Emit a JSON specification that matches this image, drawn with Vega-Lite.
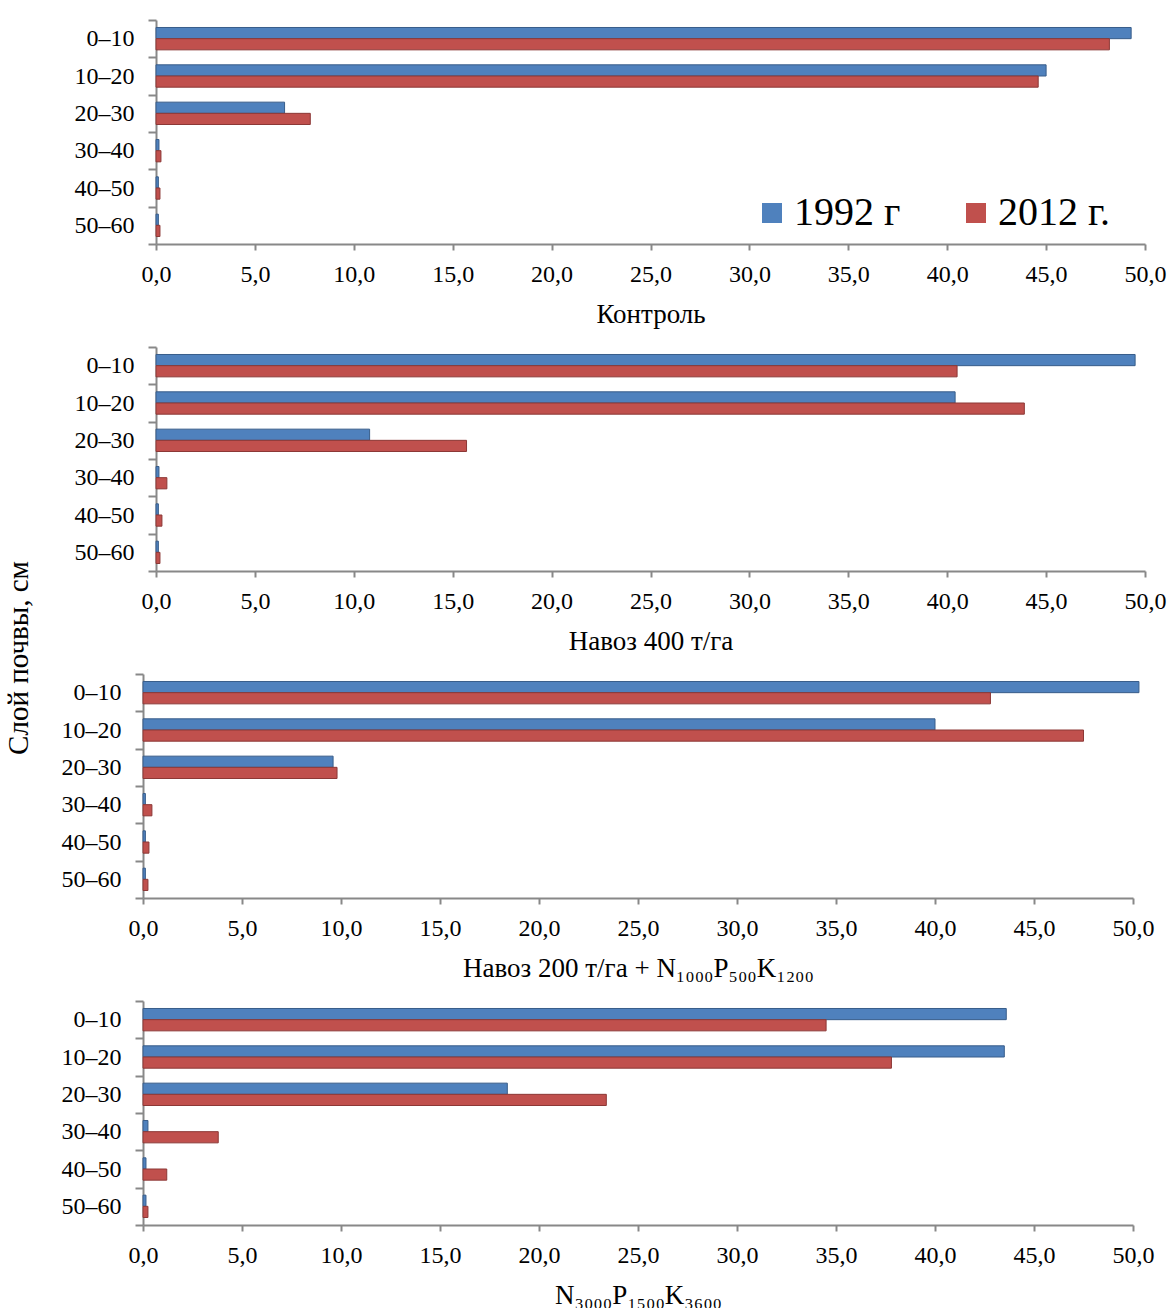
{
  "$schema": "https://vega.github.io/schema/vega-lite/v6.json",
  "background": "white",
  "padding": {"top": 8, "left": 5, "right": 5, "bottom": 0},
  "title": {"text": "Слой почвы, см", "orient": "left", "anchor": "middle", "font": "Liberation Serif", "fontSize": 29, "fontWeight": "normal", "color": "black", "offset": 27},
  "config": {
    "view": {"stroke": null},
    "axis": {"labelFont": "Liberation Serif", "labelColor": "black", "titleFont": "Liberation Serif", "titleColor": "black", "titleFontWeight": "normal", "domainColor": "#888888", "domainWidth": 2, "tickColor": "#888888", "tickWidth": 2, "grid": false},
    "axisX": {"labelFlush": false},
    "legend": {"labelFont": "Liberation Serif", "labelColor": "black"}
  },
  "data": {"values": [
    {"panel": "p1", "layer": "0–10", "year": "1992 г", "value": 49.3},
    {"panel": "p1", "layer": "0–10", "year": "2012 г.", "value": 48.2},
    {"panel": "p1", "layer": "10–20", "year": "1992 г", "value": 45.0},
    {"panel": "p1", "layer": "10–20", "year": "2012 г.", "value": 44.6},
    {"panel": "p1", "layer": "20–30", "year": "1992 г", "value": 6.5},
    {"panel": "p1", "layer": "20–30", "year": "2012 г.", "value": 7.8},
    {"panel": "p1", "layer": "30–40", "year": "1992 г", "value": 0.15},
    {"panel": "p1", "layer": "30–40", "year": "2012 г.", "value": 0.25},
    {"panel": "p1", "layer": "40–50", "year": "1992 г", "value": 0.12},
    {"panel": "p1", "layer": "40–50", "year": "2012 г.", "value": 0.2},
    {"panel": "p1", "layer": "50–60", "year": "1992 г", "value": 0.12},
    {"panel": "p1", "layer": "50–60", "year": "2012 г.", "value": 0.2},
    {"panel": "p2", "layer": "0–10", "year": "1992 г", "value": 49.5},
    {"panel": "p2", "layer": "0–10", "year": "2012 г.", "value": 40.5},
    {"panel": "p2", "layer": "10–20", "year": "1992 г", "value": 40.4},
    {"panel": "p2", "layer": "10–20", "year": "2012 г.", "value": 43.9},
    {"panel": "p2", "layer": "20–30", "year": "1992 г", "value": 10.8},
    {"panel": "p2", "layer": "20–30", "year": "2012 г.", "value": 15.7},
    {"panel": "p2", "layer": "30–40", "year": "1992 г", "value": 0.15},
    {"panel": "p2", "layer": "30–40", "year": "2012 г.", "value": 0.55},
    {"panel": "p2", "layer": "40–50", "year": "1992 г", "value": 0.12},
    {"panel": "p2", "layer": "40–50", "year": "2012 г.", "value": 0.3},
    {"panel": "p2", "layer": "50–60", "year": "1992 г", "value": 0.12},
    {"panel": "p2", "layer": "50–60", "year": "2012 г.", "value": 0.2},
    {"panel": "p3", "layer": "0–10", "year": "1992 г", "value": 50.3},
    {"panel": "p3", "layer": "0–10", "year": "2012 г.", "value": 42.8},
    {"panel": "p3", "layer": "10–20", "year": "1992 г", "value": 40.0},
    {"panel": "p3", "layer": "10–20", "year": "2012 г.", "value": 47.5},
    {"panel": "p3", "layer": "20–30", "year": "1992 г", "value": 9.6},
    {"panel": "p3", "layer": "20–30", "year": "2012 г.", "value": 9.8},
    {"panel": "p3", "layer": "30–40", "year": "1992 г", "value": 0.12},
    {"panel": "p3", "layer": "30–40", "year": "2012 г.", "value": 0.45},
    {"panel": "p3", "layer": "40–50", "year": "1992 г", "value": 0.12},
    {"panel": "p3", "layer": "40–50", "year": "2012 г.", "value": 0.3},
    {"panel": "p3", "layer": "50–60", "year": "1992 г", "value": 0.12},
    {"panel": "p3", "layer": "50–60", "year": "2012 г.", "value": 0.25},
    {"panel": "p4", "layer": "0–10", "year": "1992 г", "value": 43.6},
    {"panel": "p4", "layer": "0–10", "year": "2012 г.", "value": 34.5},
    {"panel": "p4", "layer": "10–20", "year": "1992 г", "value": 43.5},
    {"panel": "p4", "layer": "10–20", "year": "2012 г.", "value": 37.8},
    {"panel": "p4", "layer": "20–30", "year": "1992 г", "value": 18.4},
    {"panel": "p4", "layer": "20–30", "year": "2012 г.", "value": 23.4},
    {"panel": "p4", "layer": "30–40", "year": "1992 г", "value": 0.25},
    {"panel": "p4", "layer": "30–40", "year": "2012 г.", "value": 3.8},
    {"panel": "p4", "layer": "40–50", "year": "1992 г", "value": 0.15},
    {"panel": "p4", "layer": "40–50", "year": "2012 г.", "value": 1.2},
    {"panel": "p4", "layer": "50–60", "year": "1992 г", "value": 0.15},
    {"panel": "p4", "layer": "50–60", "year": "2012 г.", "value": 0.25}
  ]},
  "spacing": 8,
  "resolve": {"scale": {"color": "independent", "stroke": "independent"}, "legend": {"color": "independent"}},
  "vconcat": [
    {
      "width": 1002, "height": 224,
      "transform": [{"filter": "datum.panel == 'p1'"}],
      "mark": {"type": "bar", "strokeWidth": 1},
      "encoding": {
        "y": {"field": "layer", "type": "nominal", "sort": ["0–10", "10–20", "20–30", "30–40", "40–50", "50–60"], "scale": {"paddingInner": 0, "paddingOuter": 0}, "axis": {"title": null, "offset": -13, "tickBand": "extent", "tickSize": 8, "labelPadding": 14, "labelFontSize": 24}},
        "yOffset": {"field": "year", "sort": ["1992 г", "2012 г."], "scale": {"paddingInner": 0, "paddingOuter": 0.67}},
        "x": {"field": "value", "type": "quantitative", "scale": {"domain": [0, 50], "range": [13, 1002]}, "axis": {"title": "Контроль", "values": [0, 5, 10, 15, 20, 25, 30, 35, 40, 45, 50], "labelExpr": "replace(format(datum.value, '.1f'), '.', ',')", "tickSize": 6, "labelPadding": 12, "labelFontSize": 24, "titleFontSize": 27, "titlePadding": 15}},
        "color": {"field": "year", "type": "nominal", "scale": {"domain": ["1992 г", "2012 г."], "range": ["#4F81BD", "#C0504D"]}, "legend": {"title": null, "orient": "none", "legendX": 609, "legendY": 173, "direction": "horizontal", "symbolType": "square", "symbolSize": 400, "symbolStrokeWidth": 0, "labelFontSize": 40, "labelOffset": 2, "columnPadding": 55, "labelLimit": 400}},
        "stroke": {"field": "year", "type": "nominal", "scale": {"domain": ["1992 г", "2012 г."], "range": ["#385D8A", "#8C3836"]}, "legend": null}
      }
    },
    {
      "width": 1002, "height": 224,
      "transform": [{"filter": "datum.panel == 'p2'"}],
      "mark": {"type": "bar", "strokeWidth": 1},
      "encoding": {
        "y": {"field": "layer", "type": "nominal", "sort": ["0–10", "10–20", "20–30", "30–40", "40–50", "50–60"], "scale": {"paddingInner": 0, "paddingOuter": 0}, "axis": {"title": null, "offset": -13, "tickBand": "extent", "tickSize": 8, "labelPadding": 14, "labelFontSize": 24}},
        "yOffset": {"field": "year", "sort": ["1992 г", "2012 г."], "scale": {"paddingInner": 0, "paddingOuter": 0.67}},
        "x": {"field": "value", "type": "quantitative", "scale": {"domain": [0, 50], "range": [13, 1002]}, "axis": {"title": "Навоз 400 т/га", "values": [0, 5, 10, 15, 20, 25, 30, 35, 40, 45, 50], "labelExpr": "replace(format(datum.value, '.1f'), '.', ',')", "tickSize": 6, "labelPadding": 12, "labelFontSize": 24, "titleFontSize": 27, "titlePadding": 15}},
        "color": {"field": "year", "type": "nominal", "scale": {"domain": ["1992 г", "2012 г."], "range": ["#4F81BD", "#C0504D"]}, "legend": null},
        "stroke": {"field": "year", "type": "nominal", "scale": {"domain": ["1992 г", "2012 г."], "range": ["#385D8A", "#8C3836"]}, "legend": null}
      }
    },
    {
      "width": 990, "height": 224,
      "transform": [{"filter": "datum.panel == 'p3'"}],
      "mark": {"type": "bar", "strokeWidth": 1},
      "encoding": {
        "y": {"field": "layer", "type": "nominal", "sort": ["0–10", "10–20", "20–30", "30–40", "40–50", "50–60"], "scale": {"paddingInner": 0, "paddingOuter": 0}, "axis": {"title": null, "tickBand": "extent", "tickSize": 8, "labelPadding": 14, "labelFontSize": 24}},
        "yOffset": {"field": "year", "sort": ["1992 г", "2012 г."], "scale": {"paddingInner": 0, "paddingOuter": 0.67}},
        "x": {"field": "value", "type": "quantitative", "scale": {"domain": [0, 50]}, "axis": {"title": "Навоз 200 т/га + N₁₀₀₀P₅₀₀K₁₂₀₀", "values": [0, 5, 10, 15, 20, 25, 30, 35, 40, 45, 50], "labelExpr": "replace(format(datum.value, '.1f'), '.', ',')", "tickSize": 6, "labelPadding": 12, "labelFontSize": 24, "titleFontSize": 27, "titlePadding": 15}},
        "color": {"field": "year", "type": "nominal", "scale": {"domain": ["1992 г", "2012 г."], "range": ["#4F81BD", "#C0504D"]}, "legend": null},
        "stroke": {"field": "year", "type": "nominal", "scale": {"domain": ["1992 г", "2012 г."], "range": ["#385D8A", "#8C3836"]}, "legend": null}
      }
    },
    {
      "width": 990, "height": 224,
      "transform": [{"filter": "datum.panel == 'p4'"}],
      "mark": {"type": "bar", "strokeWidth": 1},
      "encoding": {
        "y": {"field": "layer", "type": "nominal", "sort": ["0–10", "10–20", "20–30", "30–40", "40–50", "50–60"], "scale": {"paddingInner": 0, "paddingOuter": 0}, "axis": {"title": null, "tickBand": "extent", "tickSize": 8, "labelPadding": 14, "labelFontSize": 24}},
        "yOffset": {"field": "year", "sort": ["1992 г", "2012 г."], "scale": {"paddingInner": 0, "paddingOuter": 0.67}},
        "x": {"field": "value", "type": "quantitative", "scale": {"domain": [0, 50]}, "axis": {"title": "N₃₀₀₀P₁₅₀₀K₃₆₀₀", "values": [0, 5, 10, 15, 20, 25, 30, 35, 40, 45, 50], "labelExpr": "replace(format(datum.value, '.1f'), '.', ',')", "tickSize": 6, "labelPadding": 12, "labelFontSize": 24, "titleFontSize": 27, "titlePadding": 15}},
        "color": {"field": "year", "type": "nominal", "scale": {"domain": ["1992 г", "2012 г."], "range": ["#4F81BD", "#C0504D"]}, "legend": null},
        "stroke": {"field": "year", "type": "nominal", "scale": {"domain": ["1992 г", "2012 г."], "range": ["#385D8A", "#8C3836"]}, "legend": null}
      }
    }
  ]
}
